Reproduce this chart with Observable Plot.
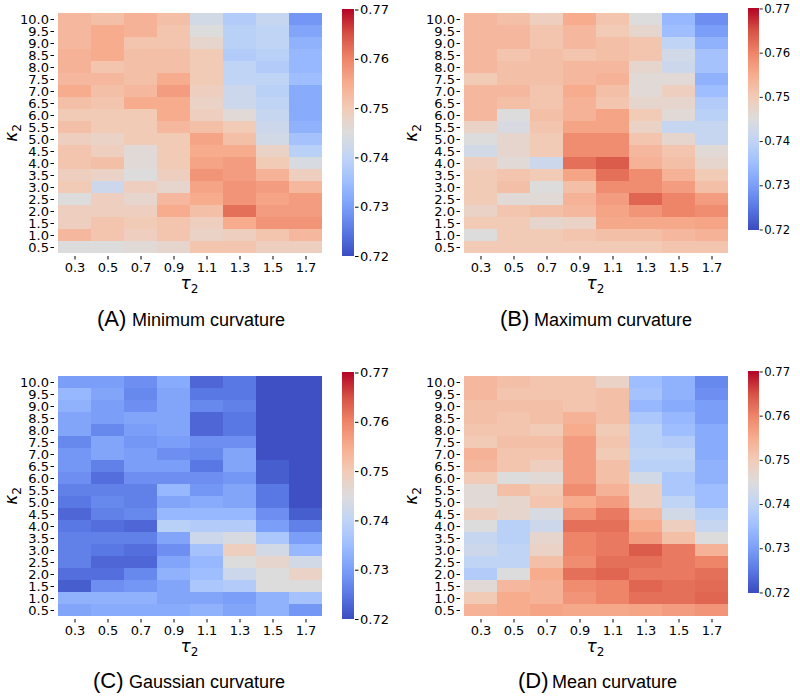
<!DOCTYPE html>
<html>
<head>
<meta charset="utf-8">
<script src="https://cdn.jsdelivr.net/npm/d3@7"></script>
<script src="https://cdn.jsdelivr.net/npm/@observablehq/plot@0.6"></script>
<style>
  html, body { margin: 0; padding: 0; background: #fff; }
  #root { position: relative; width: 800px; height: 699px; overflow: hidden; background: #fff; }
  .pane { position: absolute; }
  #overlay { position: absolute; left: 0; top: 0; pointer-events: none; }
</style>
</head>
<body>
<div id="root"></div>
<script>
// ---- data ----
const taus = ["0.3", "0.5", "0.7", "0.9", "1.1", "1.3", "1.5", "1.7"];
const kappas = ["10.0", "9.5", "9.0", "8.5", "8.0", "7.5", "7.0", "6.5", "6.0", "5.5",
                "5.0", "4.5", "4.0", "3.5", "3.0", "2.5", "2.0", "1.5", "1.0", "0.5"];
const cbarTicks = [0.72, 0.73, 0.74, 0.75, 0.76, 0.77];

// rows from kappa = 10.0 (top) down to 0.5; columns tau 0.3 .. 1.7
const minCurv = [
  [0.753, 0.752, 0.754, 0.752, 0.743, 0.738, 0.741, 0.729],
  [0.753, 0.755, 0.754, 0.751, 0.745, 0.739, 0.740, 0.731],
  [0.753, 0.755, 0.751, 0.751, 0.747, 0.739, 0.740, 0.733],
  [0.754, 0.755, 0.752, 0.752, 0.750, 0.738, 0.739, 0.734],
  [0.754, 0.751, 0.752, 0.752, 0.750, 0.740, 0.738, 0.734],
  [0.753, 0.753, 0.752, 0.755, 0.750, 0.740, 0.740, 0.735],
  [0.755, 0.752, 0.753, 0.757, 0.749, 0.742, 0.739, 0.732],
  [0.752, 0.751, 0.755, 0.755, 0.748, 0.742, 0.740, 0.732],
  [0.750, 0.750, 0.750, 0.755, 0.749, 0.746, 0.741, 0.732],
  [0.752, 0.750, 0.750, 0.753, 0.752, 0.750, 0.742, 0.733],
  [0.749, 0.748, 0.750, 0.750, 0.756, 0.752, 0.743, 0.736],
  [0.751, 0.749, 0.746, 0.750, 0.755, 0.755, 0.748, 0.739],
  [0.751, 0.752, 0.746, 0.750, 0.756, 0.757, 0.750, 0.744],
  [0.749, 0.748, 0.745, 0.749, 0.758, 0.757, 0.754, 0.749],
  [0.750, 0.742, 0.749, 0.747, 0.756, 0.758, 0.757, 0.753],
  [0.745, 0.749, 0.747, 0.753, 0.755, 0.758, 0.756, 0.757],
  [0.749, 0.749, 0.749, 0.755, 0.752, 0.762, 0.757, 0.757],
  [0.749, 0.751, 0.750, 0.751, 0.749, 0.755, 0.758, 0.758],
  [0.753, 0.751, 0.749, 0.751, 0.748, 0.749, 0.751, 0.753],
  [0.745, 0.745, 0.746, 0.747, 0.751, 0.751, 0.749, 0.749]
];
const maxCurv = [
  [0.753, 0.752, 0.749, 0.755, 0.751, 0.745, 0.734, 0.728],
  [0.753, 0.753, 0.751, 0.753, 0.750, 0.747, 0.735, 0.730],
  [0.753, 0.753, 0.751, 0.753, 0.752, 0.751, 0.740, 0.733],
  [0.753, 0.751, 0.752, 0.751, 0.752, 0.751, 0.743, 0.736],
  [0.753, 0.752, 0.752, 0.753, 0.753, 0.747, 0.742, 0.736],
  [0.750, 0.752, 0.752, 0.753, 0.754, 0.746, 0.746, 0.733],
  [0.753, 0.753, 0.751, 0.755, 0.752, 0.746, 0.749, 0.735],
  [0.753, 0.752, 0.751, 0.754, 0.751, 0.747, 0.747, 0.738],
  [0.753, 0.745, 0.752, 0.754, 0.756, 0.750, 0.746, 0.739],
  [0.748, 0.744, 0.751, 0.756, 0.756, 0.748, 0.741, 0.741],
  [0.745, 0.747, 0.750, 0.759, 0.759, 0.751, 0.747, 0.741],
  [0.743, 0.747, 0.750, 0.759, 0.759, 0.753, 0.751, 0.746],
  [0.749, 0.746, 0.742, 0.762, 0.764, 0.754, 0.752, 0.747],
  [0.750, 0.751, 0.750, 0.756, 0.762, 0.759, 0.754, 0.750],
  [0.750, 0.752, 0.745, 0.752, 0.759, 0.759, 0.757, 0.752],
  [0.750, 0.746, 0.746, 0.754, 0.757, 0.763, 0.760, 0.757],
  [0.748, 0.751, 0.752, 0.753, 0.756, 0.758, 0.760, 0.759],
  [0.750, 0.750, 0.747, 0.748, 0.7555, 0.7555, 0.7555, 0.756],
  [0.745, 0.750, 0.750, 0.751, 0.752, 0.752, 0.753, 0.754],
  [0.750, 0.750, 0.750, 0.750, 0.750, 0.750, 0.751, 0.751]
];
const gaussCurv = [
  [0.730, 0.730, 0.728, 0.732, 0.723, 0.725, 0.7205, 0.7205],
  [0.734, 0.731, 0.727, 0.731, 0.725, 0.725, 0.7205, 0.7205],
  [0.733, 0.730, 0.728, 0.731, 0.727, 0.726, 0.7205, 0.7205],
  [0.731, 0.730, 0.731, 0.731, 0.723, 0.725, 0.7205, 0.7205],
  [0.731, 0.727, 0.730, 0.731, 0.723, 0.725, 0.7205, 0.7205],
  [0.727, 0.731, 0.729, 0.730, 0.728, 0.728, 0.7205, 0.7205],
  [0.729, 0.731, 0.730, 0.728, 0.727, 0.731, 0.7205, 0.7205],
  [0.729, 0.726, 0.730, 0.730, 0.725, 0.731, 0.722, 0.7205],
  [0.728, 0.724, 0.728, 0.728, 0.728, 0.729, 0.722, 0.7205],
  [0.726, 0.726, 0.726, 0.734, 0.729, 0.731, 0.725, 0.7205],
  [0.725, 0.727, 0.726, 0.731, 0.732, 0.731, 0.725, 0.7205],
  [0.723, 0.726, 0.727, 0.734, 0.734, 0.734, 0.728, 0.722],
  [0.725, 0.724, 0.723, 0.739, 0.738, 0.738, 0.730, 0.726],
  [0.726, 0.726, 0.726, 0.731, 0.742, 0.744, 0.737, 0.730],
  [0.726, 0.725, 0.724, 0.728, 0.736, 0.749, 0.743, 0.734],
  [0.726, 0.723, 0.723, 0.731, 0.734, 0.745, 0.747, 0.743],
  [0.724, 0.724, 0.727, 0.733, 0.735, 0.742, 0.745, 0.748],
  [0.722, 0.728, 0.729, 0.731, 0.737, 0.738, 0.745, 0.745],
  [0.733, 0.733, 0.733, 0.731, 0.731, 0.730, 0.733, 0.736],
  [0.731, 0.732, 0.732, 0.732, 0.733, 0.731, 0.733, 0.729]
];
const meanCurv = [
  [0.753, 0.752, 0.751, 0.751, 0.748, 0.735, 0.733, 0.727],
  [0.753, 0.751, 0.751, 0.751, 0.752, 0.736, 0.733, 0.728],
  [0.752, 0.752, 0.752, 0.751, 0.752, 0.734, 0.732, 0.730],
  [0.752, 0.751, 0.752, 0.754, 0.752, 0.737, 0.734, 0.730],
  [0.751, 0.751, 0.750, 0.755, 0.750, 0.739, 0.735, 0.732],
  [0.750, 0.752, 0.752, 0.757, 0.751, 0.739, 0.738, 0.732],
  [0.754, 0.751, 0.751, 0.757, 0.750, 0.740, 0.740, 0.732],
  [0.753, 0.751, 0.749, 0.757, 0.752, 0.739, 0.739, 0.733],
  [0.750, 0.745, 0.746, 0.757, 0.752, 0.743, 0.737, 0.733],
  [0.746, 0.752, 0.750, 0.759, 0.754, 0.749, 0.737, 0.735],
  [0.746, 0.747, 0.751, 0.755, 0.757, 0.749, 0.740, 0.735],
  [0.749, 0.747, 0.744, 0.758, 0.761, 0.753, 0.743, 0.739],
  [0.745, 0.739, 0.742, 0.762, 0.762, 0.755, 0.749, 0.741],
  [0.741, 0.739, 0.747, 0.760, 0.761, 0.757, 0.752, 0.745],
  [0.742, 0.740, 0.748, 0.760, 0.761, 0.764, 0.761, 0.754],
  [0.740, 0.740, 0.752, 0.759, 0.762, 0.762, 0.761, 0.760],
  [0.738, 0.745, 0.755, 0.762, 0.763, 0.761, 0.761, 0.762],
  [0.746, 0.753, 0.754, 0.759, 0.760, 0.763, 0.762, 0.7625],
  [0.750, 0.755, 0.754, 0.758, 0.760, 0.762, 0.762, 0.763],
  [0.754, 0.755, 0.756, 0.7555, 0.7555, 0.756, 0.757, 0.758]
];

// ---- colour map (matplotlib coolwarm) ----
const coolwarm = ["#3b4cc0", "#5a78e4", "#7b9ff9", "#9ebeff", "#c0d4f5", "#dddcdc",
                  "#f2cbb7", "#f7ac8e", "#ee8468", "#d65244", "#b40426"];
const colorScale = {
  type: "linear",
  domain: [0.72, 0.77],
  interpolate: d3.piecewise(d3.interpolateRgb, coolwarm),
  clamp: true
};

const FONT = "DejaVu Sans, sans-serif";
const root = document.getElementById("root");

function heatmap(values, left, top, plotLeft, plotRight) {
  const rows = [];
  values.forEach((row, i) => row.forEach((v, j) => rows.push({tau: taus[j], kappa: kappas[i], v})));
  const W = plotRight + 15;
  const chart = Plot.plot({
    width: W,
    height: 300,
    marginLeft: plotLeft,
    marginRight: W - plotRight,
    marginTop: 9.5,
    marginBottom: 44,
    style: {fontSize: "13px", fontFamily: FONT, color: "#000", background: "transparent"},
    x: {type: "band", domain: taus, padding: 0, label: null, tickSize: 3.5, tickPadding: 3},
    y: {type: "band", domain: kappas, padding: 0, label: null, tickSize: 3.5, tickPadding: 2},
    color: colorScale,
    marks: [
      Plot.cell(rows, {x: "tau", y: "kappa", fill: "v", inset: 0, shapeRendering: "crispEdges"})
    ]
  });
  const div = document.createElement("div");
  div.className = "pane";
  div.style.left = left + "px";
  div.style.top = top + "px";
  div.appendChild(chart);
  root.appendChild(div);
}

function colorbar(left, top) {
  const step = 0.0001;
  const stripes = d3.range(0.72, 0.77 - step / 2, step);
  const chart = Plot.plot({
    width: 58,
    height: 300,
    marginLeft: 0,
    marginRight: 46,
    marginTop: 9.5,
    marginBottom: 44,
    style: {fontSize: "13px", fontFamily: FONT, color: "#000", background: "transparent"},
    x: {domain: [0, 1], axis: null},
    y: {domain: [0.72, 0.77], axis: "right", ticks: cbarTicks, tickFormat: d => d.toFixed(2),
        tickSize: 3.5, tickPadding: 2, label: null},
    color: colorScale,
    marks: [
      Plot.rect(stripes, {x1: 0, x2: 1, y1: d => d, y2: d => d + step * 1.5, fill: d => d + step / 2,
                          shapeRendering: "crispEdges"})
    ]
  });
  const div = document.createElement("div");
  div.className = "pane";
  div.style.left = left + "px";
  div.style.top = top + "px";
  div.appendChild(chart);
  root.appendChild(div);
}

// panels
heatmap(minCurv, 0, 0, 54, 325);
colorbar(342, 0);
heatmap(maxCurv, 400, 0, 60, 331);
colorbar(748, 0);
heatmap(gaussCurv, 0, 363, 54, 325);
colorbar(342, 363);
heatmap(meanCurv, 400, 363, 60, 331);
colorbar(748, 363);

// ---- text overlay: axis labels & captions ----
const captions = [
  {tag: "(A)", text: "Minimum curvature", xTag: 97, xText: 132, y: 326},
  {tag: "(B)", text: "Maximum curvature", xTag: 500, xText: 534, y: 326},
  {tag: "(C)", text: "Gaussian curvature", xTag: 93, xText: 129, y: 688},
  {tag: "(D)", text: "Mean curvature", xTag: 518, xText: 552, y: 688}
];
const axisLabels = [
  {tauX: 189.5, tauY: 289, kapX: 16.5, kapY: 133},
  {tauX: 595.5, tauY: 289, kapX: 416.5, kapY: 133},
  {tauX: 189.5, tauY: 652, kapX: 16.5, kapY: 496},
  {tauX: 595.5, tauY: 652, kapX: 416.5, kapY: 496}
];
const ns = "http://www.w3.org/2000/svg";
const svg = document.createElementNS(ns, "svg");
svg.setAttribute("id", "overlay");
svg.setAttribute("width", 800);
svg.setAttribute("height", 699);
function addText(parent, x, y, str, attrs) {
  const t = document.createElementNS(ns, "text");
  t.setAttribute("x", x); t.setAttribute("y", y);
  for (const k in attrs) t.setAttribute(k, attrs[k]);
  t.textContent = str;
  parent.appendChild(t);
  return t;
}
function addSubLabel(x, y, sym, rotate) {
  const t = document.createElementNS(ns, "text");
  t.setAttribute("x", x); t.setAttribute("y", y);
  t.setAttribute("text-anchor", "middle");
  t.setAttribute("font-family", FONT);
  t.setAttribute("fill", "#000");
  if (rotate) t.setAttribute("transform", `rotate(-90 ${x} ${y})`);
  const a = document.createElementNS(ns, "tspan");
  a.setAttribute("font-size", 17); a.setAttribute("font-style", "italic");
  a.textContent = sym;
  const b = document.createElementNS(ns, "tspan");
  b.setAttribute("font-size", 12); b.setAttribute("dy", 4);
  b.textContent = "2";
  t.appendChild(a); t.appendChild(b);
  svg.appendChild(t);
}
captions.forEach(c => {
  addText(svg, c.xTag, c.y, c.tag, {"font-family": "Liberation Sans, Arial, sans-serif", "font-size": 22, fill: "#000"});
  addText(svg, c.xText, c.y, c.text, {"font-family": "Liberation Sans, Arial, sans-serif", "font-size": 18, fill: "#000"});
});
axisLabels.forEach(a => {
  addSubLabel(a.tauX, a.tauY, "τ", false);
  addSubLabel(a.kapX, a.kapY, "κ", true);
});
root.appendChild(svg);
</script>
</body>
</html>
